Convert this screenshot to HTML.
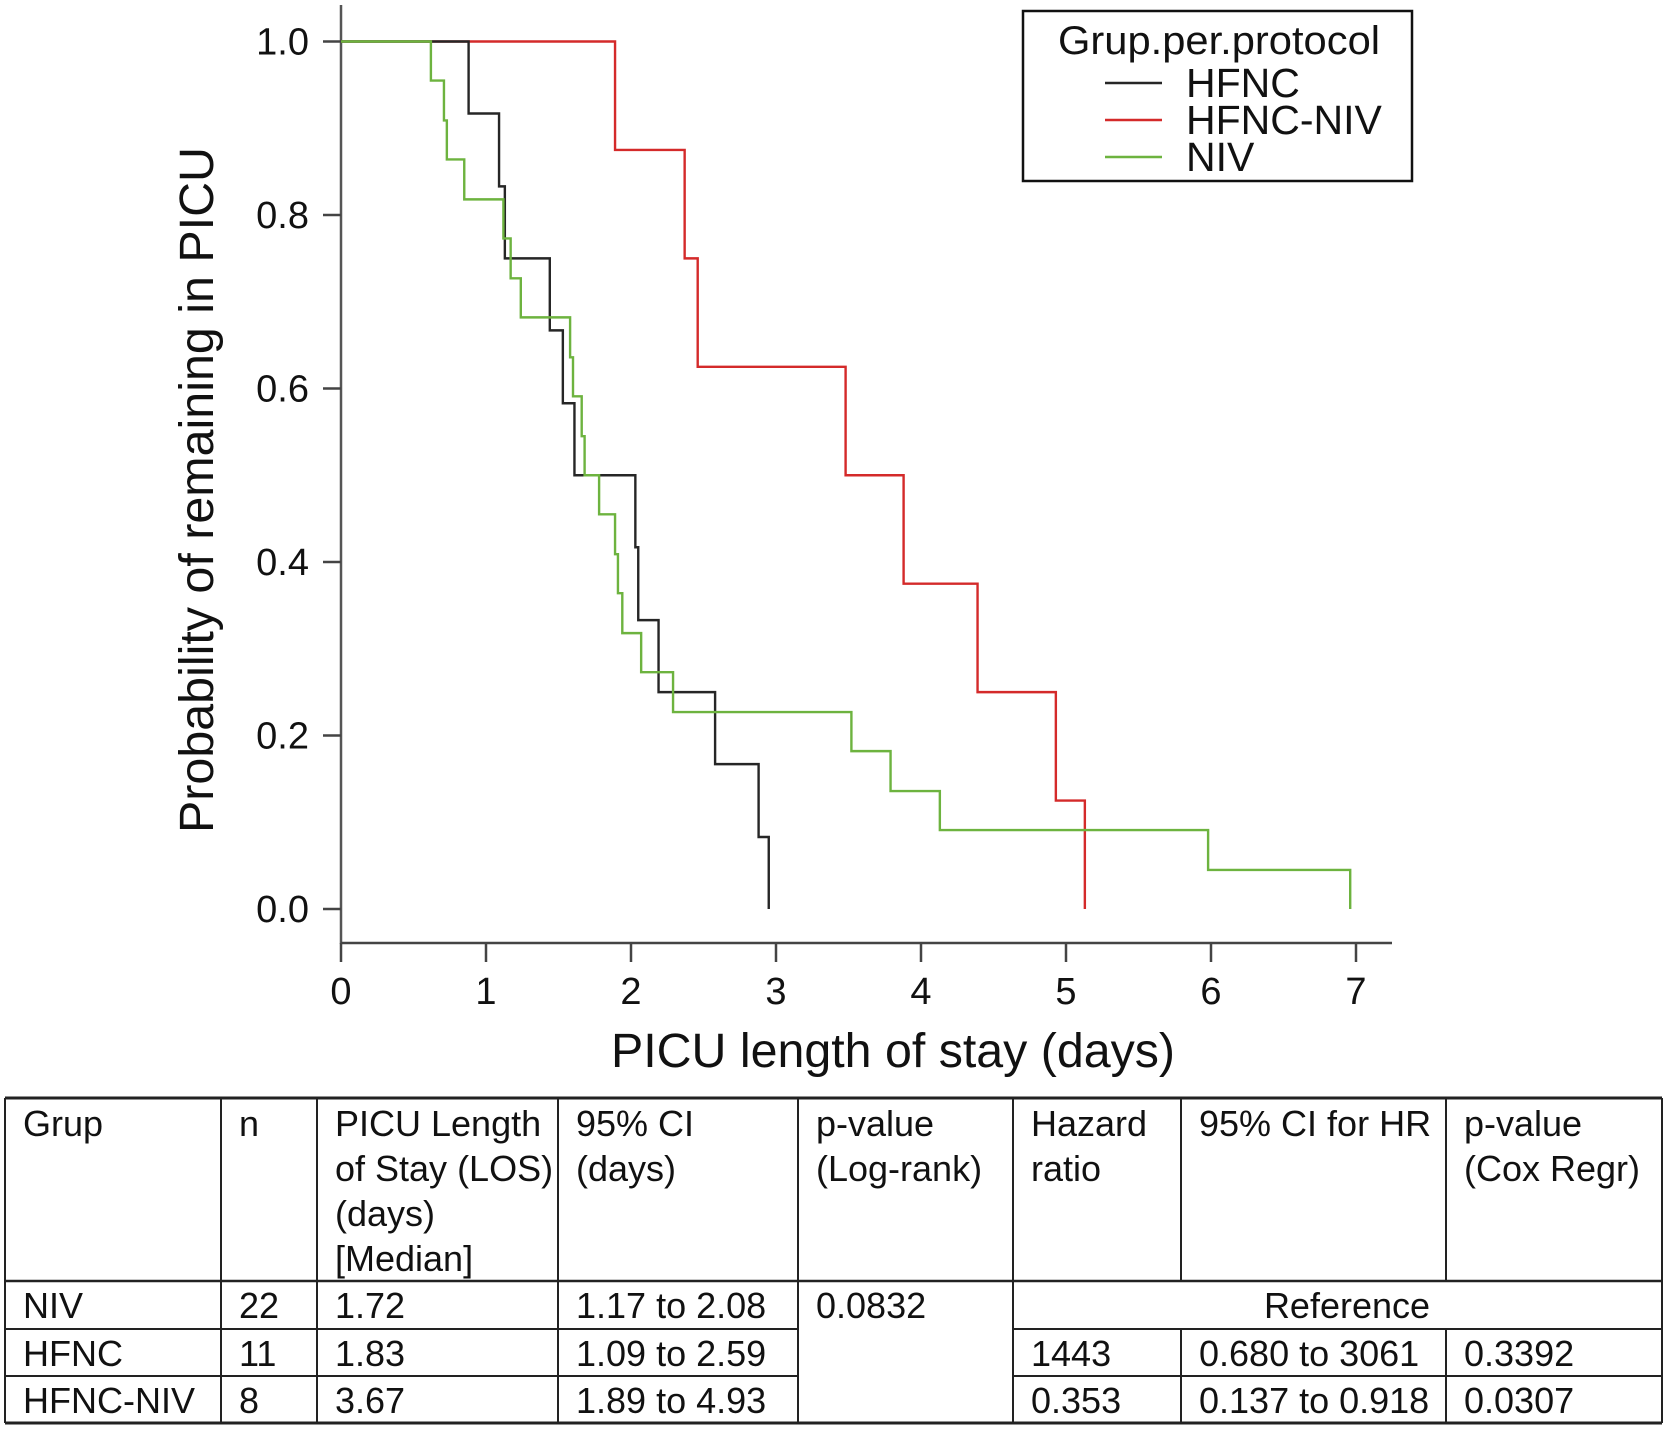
<!DOCTYPE html>
<html><head><meta charset="utf-8">
<style>
html,body{margin:0;padding:0;background:#fff;}
body{width:1667px;height:1429px;overflow:hidden;font-family:"Liberation Sans",sans-serif;}
svg text{font-family:"Liberation Sans",sans-serif;fill:#111;}
</style></head>
<body>
<svg id="chart" width="1667" height="1429" viewBox="0 0 1667 1429" xmlns="http://www.w3.org/2000/svg">
<g id="plot"></g>
<g id="tbl"></g>
</svg>
<script>
const xTicks = [0,1,2,3,4,5,6,7];
const yTicks = [0.0,0.2,0.4,0.6,0.8,1.0];
const yTickLabels = ["0.0","0.2","0.4","0.6","0.8","1.0"];
const seriesNames = ["HFNC","HFNC-NIV","NIV"];
const seriesColors = ["#262626","#d42a2a","#6db33f"];
const hfncTimes = [0.88,1.09,1.13,1.44,1.53,1.61,2.03,2.05,2.19,2.58,2.88,2.95];
const hfncSurv  = [0.917,0.833,0.75,0.667,0.583,0.5,0.417,0.333,0.25,0.167,0.083,0];
const hfncNivTimes = [1.89,2.37,2.46,3.48,3.88,4.39,4.93,5.13];
const hfncNivSurv  = [0.875,0.75,0.625,0.5,0.375,0.25,0.125,0];
const nivTimes = [0.62,0.71,0.73,0.85,1.12,1.17,1.24,1.58,1.60,1.66,1.68,1.78,1.89,1.91,1.94,2.07,2.29,3.52,3.79,4.13,5.98,6.96];
const nivSurv  = [0.955,0.909,0.864,0.818,0.773,0.727,0.682,0.636,0.591,0.545,0.5,0.455,0.409,0.364,0.318,0.273,0.227,0.182,0.136,0.091,0.045,0];

const NS="http://www.w3.org/2000/svg";
const X0=341, XPER=145, Y0=909, Y1=41.5;
function xs(v){return X0+v*XPER;}
function ys(v){return Y0-(Y0-Y1)*v;}
function mk(tag,attrs,parent){const e=document.createElementNS(NS,tag);for(const k in attrs)e.setAttribute(k,attrs[k]);parent.appendChild(e);return e;}
const plot=document.getElementById('plot');

let ya=mk('line',{x1:X0,y1:5,x2:X0,y2:944,stroke:'#555','stroke-width':2.5},plot);


let xa=mk('line',{x1:X0,y1:943,x2:1392,y2:943,stroke:'#444','stroke-width':2.5},plot);


yTicks.forEach((t,i)=>{
  let l=mk('line',{x1:323,y1:ys(t),x2:X0,y2:ys(t),stroke:'#444','stroke-width':2.5},plot);
  
  
  let tx=mk('text',{x:309,y:ys(t)+13,'text-anchor':'end','font-size':38},plot);
  tx.textContent=yTickLabels[i];
  
  
});
xTicks.forEach(t=>{
  let l=mk('line',{x1:xs(t),y1:943,x2:xs(t),y2:962,stroke:'#444','stroke-width':2.5},plot);
  
  
  let tx=mk('text',{x:xs(t),y:1004,'text-anchor':'middle','font-size':38},plot);
  tx.textContent=String(t);
  
  
});
let xt=mk('text',{x:893,y:1067,'text-anchor':'middle','font-size':48,textLength:564,lengthAdjust:'spacingAndGlyphs'},plot);
xt.textContent='PICU length of stay (days)';


let yt=mk('text',{x:0,y:0,'text-anchor':'middle','font-size':48,textLength:686,lengthAdjust:'spacingAndGlyphs',transform:'translate(213,490) rotate(-90)'},plot);
yt.textContent='Probability of remaining in PICU';



function stepPath(times,surv){
  let d='M'+xs(0)+','+ys(1);
  for(let i=0;i<times.length;i++){
    d+=' H'+xs(times[i])+' V'+ys(surv[i]);
  }
  return d;
}
const allT=[hfncTimes,hfncNivTimes,nivTimes], allS=[hfncSurv,hfncNivSurv,nivSurv];
const order=[1,0,2];
order.forEach(i=>{
  let p=mk('path',{d:stepPath(allT[i],allS[i]),fill:'none',stroke:seriesColors[i],'stroke-width':2.4},plot);
  
  
});

let lg=mk('g',{},plot);


mk('rect',{x:1023,y:11,width:389,height:170,fill:'#fff',stroke:'#111','stroke-width':2.5},lg);
let lt=mk('text',{x:1219,y:54,'text-anchor':'middle','font-size':40,textLength:322,lengthAdjust:'spacingAndGlyphs'},lg);
lt.textContent='Grup.per.protocol';


const legY=[83,120,157];
seriesNames.forEach((n,i)=>{
  let g=mk('g',{},lg);
  
  
  mk('line',{x1:1105,y1:legY[i],x2:1162,y2:legY[i],stroke:seriesColors[i],'stroke-width':2.4},g);
  let t=mk('text',{x:1186,y:legY[i]+14,'font-size':41},g);
  t.textContent=n;
});

const tbl=document.getElementById('tbl');


const colX=[5,221,317,558,798,1013,1181,1446,1662];
const S='#222';
function ln(x1,y1,x2,y2,w){mk('line',{x1,y1,x2,y2,stroke:S,'stroke-width':w||2},tbl);}
ln(5,1098,1662,1098,3); ln(5,1423,1662,1423,3); ln(5,1281,1662,1281,2.5);
ln(5,1329,798,1329); ln(5,1376,798,1376);
ln(1013,1329,1662,1329); ln(1013,1376,1662,1376);
colX.forEach((x,i)=>{
  if(i===0||i===8){ln(x,1098,x,1423,2);return;}
  if(i===6||i===7){ln(x,1098,x,1281);ln(x,1329,x,1423);return;}
  ln(x,1098,x,1423);
});
function tx(x,y,s,anchor){let t=mk('text',{x,y,'font-size':36,'text-anchor':anchor||'start'},tbl);t.textContent=s;}
const headers=[["Grup"],["n"],["PICU Length","of Stay (LOS)","(days)","[Median]"],["95% CI","(days)"],["p-value","(Log-rank)"],["Hazard","ratio"],["95% CI for HR"],["p-value","(Cox Regr)"]];
headers.forEach((h,i)=>h.forEach((s,j)=>tx(colX[i]+18,1136+j*45,s)));
const rows=[["NIV","22","1.72","1.17 to 2.08","0.0832"],["HFNC","11","1.83","1.09 to 2.59","","1443","0.680 to 3061","0.3392"],["HFNC-NIV","8","3.67","1.89 to 4.93","","0.353","0.137 to 0.918","0.0307"]];
const rowBase=[1318,1366,1413];
rows.forEach((r,ri)=>r.forEach((s,ci)=>{if(s)tx(colX[ci]+18,rowBase[ri],s);}));
tx(1347,rowBase[0],'Reference','middle');
</script>
</body></html>
